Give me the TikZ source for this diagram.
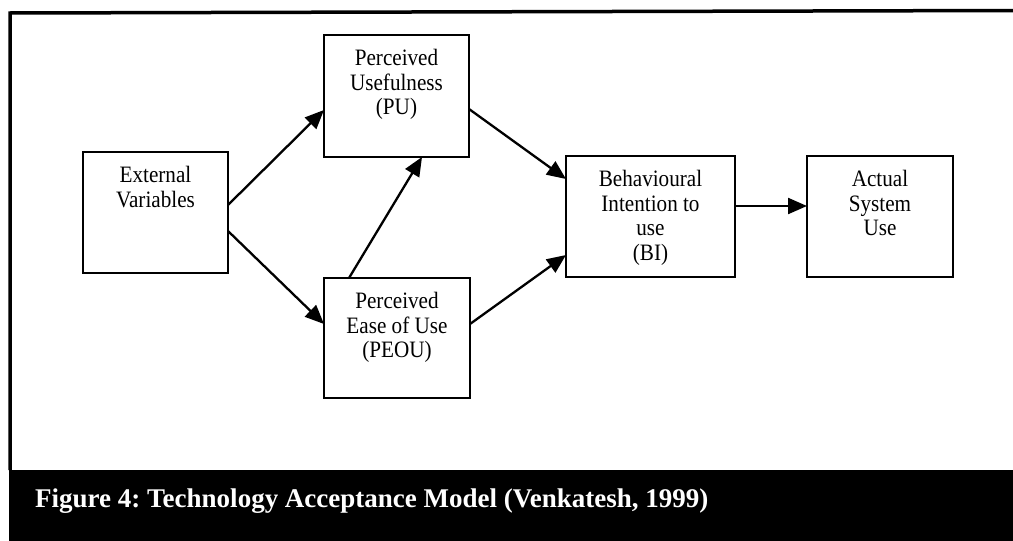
\documentclass[tikz,border=0pt]{standalone}
\usepackage{fontspec}
\setmainfont{Liberation Serif}
\newfontfamily\boxfont[FakeStretch=0.9]{Liberation Serif}
\usetikzlibrary{arrows.meta}
\newcommand\boxcontent[3]{\parbox[c][#2][t]{#1}{\centering\boxfont\fontsize{23.5}{24.5}\selectfont\vspace*{13.8pt}\strut #3}}
\tikzset{
  boxnode/.style={draw, line width=1.8pt, inner sep=0pt, outer sep=0pt},
  arr/.style={line width=2.3pt, -{Triangle[length=19pt,width=16pt]}},
}
\begin{document}
\begin{tikzpicture}[x=1pt,y=-1pt]
\useasboundingbox (0,0) rectangle (1013,541);
% frame
\draw[line width=3.5pt] (1013,10.5) -- (10,13) -- (10,470);
\fill[black] (9,470) rectangle (1013,541);
\node[anchor=base west, text=white, inner sep=0pt, font=\frenchspacing\fontsize{27}{30}\selectfont\bfseries] (cap) at (35,507) {Figure 4: Technology Acceptance Model (Venkatesh, 1999)};
% boxes
\node[boxnode] (ext) at (155.5,212.5) {\boxcontent{145pt}{121pt}{External\\Variables}};
\node[boxnode] (pu) at (396.5,96) {\boxcontent{145pt}{122pt}{Perceived\\Usefulness\\(PU)}};
\node[boxnode] (peou) at (397,338) {\boxcontent{146pt}{120pt}{Perceived\\Ease of Use\\(PEOU)}};
\node[boxnode] (bi) at (650.5,216.5) {\boxcontent{169pt}{121pt}{Behavioural\\Intention to\\use\\(BI)}};
\node[boxnode] (asu) at (880,216.5) {\boxcontent{146pt}{121pt}{Actual\\System\\Use}};
% arrows
\draw[arr] ([yshift=7.5pt]ext.east) -- ([yshift=-14pt]pu.west);
\draw[arr] ([yshift=-18.5pt]ext.east) -- ([yshift=14pt]peou.west);
\draw[arr] ([xshift=-48pt]peou.north) -- ([xshift=25.5pt]pu.south);
\draw[arr] ([yshift=-13pt]pu.east) -- ([yshift=37.5pt]bi.west);
\draw[arr] ([yshift=14pt]peou.east) -- ([yshift=-38.5pt]bi.west);
\draw[arr] ([yshift=10.5pt]bi.east) -- ([yshift=10.5pt]asu.west);
\end{tikzpicture}
\end{document}
